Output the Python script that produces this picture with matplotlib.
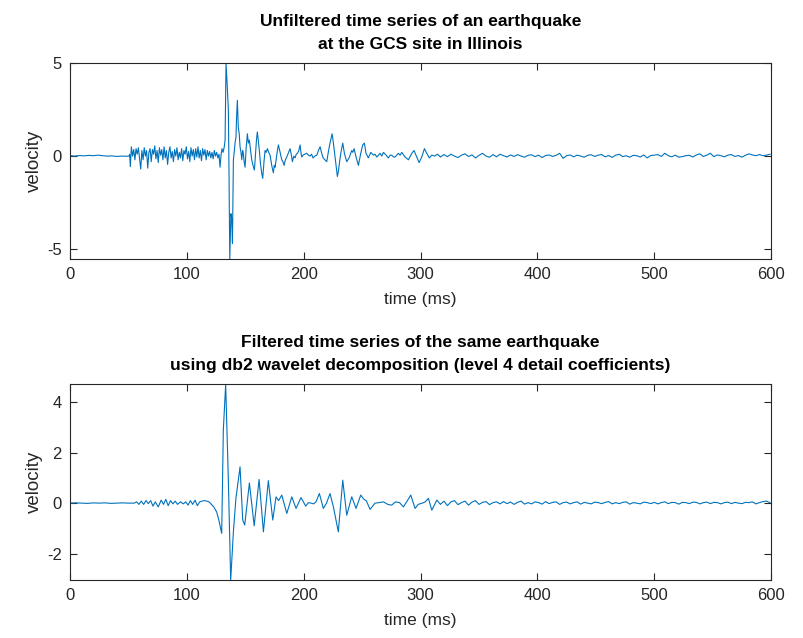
import numpy as np
import matplotlib
matplotlib.use("Agg")
import matplotlib.pyplot as plt

plt.rcParams['font.family'] = ['Liberation Sans', 'DejaVu Sans']
plt.rcParams['axes.unicode_minus'] = False

LINE_COLOR = '#0072BD'

# ---------------- Unfiltered series (top) ----------------
raw_t = [0, 4, 8, 12, 16, 20, 24, 28, 32, 36, 40, 44, 48, 50.5,
         51, 51.6, 52.5, 53.5, 54.5, 55.5, 56.5, 57.5, 58.5, 59.5, 60.5, 61.5, 62.5, 63.5, 64.5,
         65.5, 66.5, 67.5, 68.5, 69.5, 70.5, 71.5, 72.5, 73.5, 74.5, 75.5, 76.5, 77.5, 78.5, 79.5,
         80.5, 81.5, 82.5, 83.5, 84.5, 85.5, 86.5, 87.5, 88.5, 89.5, 90.5, 91.5, 92.5, 93.5, 94.5,
         95.5, 96.5, 97.5, 98.5, 99.5, 100.5, 101.5, 102.5, 103.5, 104.5, 105.5, 106.5, 107.5, 108.5,
         109.5, 110.5, 111.5, 112.5, 113.5, 114.5, 115.5, 116.5, 117.5, 118.5, 119.5, 120.5, 121.5,
         122.5, 123.5, 124.5, 125.5, 126.5, 127.5, 128.4, 129.3, 130.1, 131, 132, 132.7, 133.5,
         134.6, 135.5, 136.1, 136.7, 137.2, 137.7, 138.4, 139.0, 139.8, 140.5, 141.2, 142, 142.6,
         143.2, 144, 144.8, 145.5, 146.3, 147, 147.7, 148.3, 149, 149.8, 150.8, 151.8, 152.6, 153.5,
         154.5, 155.5, 156.6, 157.8, 158.8, 159.6, 160.3, 161.2, 162, 163, 164, 164.9, 166, 166.9,
         167.8, 168.9, 170, 171.2, 172.6, 174, 174.8, 175.5, 177, 178.3, 179.8, 181.2, 182.2, 183.2,
         184.3, 185.5, 187, 188.3, 189.3, 190.3, 191.5, 192.6, 193.6, 194.6, 195.8, 196.9, 197.6,
         198.3, 199.4, 200.8, 202.6, 204, 205.4, 206.7, 208, 209.5, 211.2, 212.6, 214, 215.4, 216.6,
         218.2, 219.7, 221, 222.5, 224.3, 225.4, 226.8, 227.8, 228.8, 229.7, 230.5, 231.7, 233.4,
         234.8, 236.8, 238.8, 240, 241.1, 242, 243.1, 244.8, 246.8, 248.8, 250.5, 251.9, 253.3,
         255.3, 257.4, 259.6, 261, 262.5, 264, 265.3, 266.8, 268.2, 270.5, 272.4, 274, 275.3, 276.8,
         278.2, 281, 282.5, 283.9, 286.7, 289.6, 292.5, 294.4, 296.7, 298.7, 301, 303.3, 305.3,
         307.5, 309.6, 312, 314.5]
raw_v = [0.02, 0.0, 0.03, 0.01, 0.04, 0.02, 0.05, 0.02, 0.0, 0.01, -0.02, 0.0, -0.01, 0.0,
         0.1, -0.57, 0.5, 0.0, 0.35, -0.2, 0.4, 0.1, 0.45, -0.1, -0.7, 0.3, -0.2, 0.45, 0.0,
         0.3, -0.65, 0.2, 0.4, -0.3, 0.35, 0.1, 0.55, -0.15, 0.3, -0.35, 0.45, 0.05, 0.35, -0.2,
         0.5, -0.1, 0.3, -0.45, 0.2, 0.5, -0.1, 0.25, -0.3, 0.35, 0.0, 0.45, -0.2, 0.2, -0.1,
         0.4, -0.25, 0.3, 0.1, 0.5, -0.15, 0.25, -0.3, 0.45, 0.0, 0.35, -0.2, 0.4, -0.05,
         0.5, -0.1, 0.3, -0.25, 0.4, 0.05, 0.35, -0.2, 0.3, 0.0, 0.25, -0.1, 0.2,
         -0.15, 0.3, 0.0, 0.2, -0.1, 0.1, -0.6, 0.1, 0.4, 0.2, 0.5, 0.86, 5.0,
         3.7, 2.5, -1.1, -5.54, -4.35, -3.1, -3.4, -4.7, -0.2, 0.2, 0.7, 1.0, 2.2,
         3.0, 1.56, 1.2, 0.5, 0.2, -0.2, 0.3, 0.16, -0.3, -0.6, 0.5, 1.2, 0.7, 0.86,
         0.3, -0.2, -0.5, -0.75, 0.2, 0.9, 1.3, 0.8, 0.3, -0.4, -0.9, -1.2, -0.3, 0.3,
         0.2, 0.4, 0.2, 0.05, -0.5, -0.9, -0.5, -0.6, 0.1, 0.6, 0.2, -0.2, -0.3, -0.5,
         -0.2, -0.05, 0.2, 0.4, 0.1, -0.3, 0.0, -0.1, 0.1, 0.15, 0.3, 0.6, 0.2,
         -0.05, 0.05, 0.1, 0.15, 0.05, 0.0, 0.1, -0.1, 0.0, 0.05, 0.3, 0.5, 0.15, -0.1,
         -0.2, -0.3, 0.2, 0.7, 1.2, 0.7, -0.05, -0.6, -1.1, -0.8, -0.4, 0.15, 0.7,
         0.15, -0.3, -0.1, 0.1, 0.3, 0.2, 0.4, -0.05, -0.5, 0.15, 0.6, 0.7, 0.15,
         -0.1, 0.2, 0.05, 0.1, -0.05, 0.05, 0.15, 0.0, 0.2, 0.05, -0.1, 0.05, 0.05, -0.05,
         -0.05, 0.15, 0.05, 0.2, -0.05, -0.2, 0.15, 0.3, -0.05, -0.35, -0.05, 0.4, 0.15,
         -0.1, 0.05, 0.0, 0.1]
# quiet tail of the unfiltered record, sampled every 3 ms from 317 ms
raw_tail_start = 317
raw_tail_step = 3
raw_tail_v = [-0.05, 0.08, -0.03, 0.1, 0.0, -0.08, 0.05, 0.12, -0.02, 0.06,
              -0.1, 0.04, 0.15, 0.0, -0.06, 0.08, -0.04, 0.1, 0.02, -0.05,
              0.06, -0.02, 0.08, 0.0, -0.06, 0.04, 0.07, -0.03, 0.05, -0.08,
              0.03, 0.06, -0.02, 0.04, 0.15, -0.12, 0.02, 0.06, -0.04, 0.05,
              0.0, -0.06, 0.04, 0.07, -0.02, 0.05, 0.08, -0.04, 0.03, -0.07,
              0.05, 0.1, -0.03, 0.02, -0.06, 0.04, 0.02, -0.05, 0.06, -0.1,
              0.03, 0.05, 0.08, -0.02, 0.15, 0.02, -0.04, 0.05, -0.06, -0.03,
              0.02, 0.04, -0.05, 0.06, 0.12, -0.02, 0.05, 0.15, -0.03, 0.06,
              0.02, -0.04, 0.05, 0.08, -0.02, 0.03, -0.06, 0.04, 0.12, 0.06,
              0.02, 0.08, 0.02, 0.05, 0.1]

# ---------------- Filtered series (bottom) ----------------
flt_t = [0, 5, 10, 15, 20, 25, 30, 35, 40, 45, 50, 55,
         57, 59, 61, 63, 65, 67, 69, 71, 73, 75.5, 78, 80, 82, 84, 86, 88, 90, 92, 94.5, 97, 99,
         101, 103, 105, 107, 109, 111, 113, 115, 117, 119, 121, 123, 125.5, 127.5, 129.8, 131.2,
         133.2, 135.5, 137.5, 139.8, 142, 145.5, 147.8, 149.5, 153.5, 157.6, 161.8, 165.5, 169.7,
         173.5, 176.3, 178.5, 181.2, 185.5, 189.8, 193.4, 197.7, 201.7, 204, 206.3, 208.5, 210.5,
         213.4, 216.8, 219.5, 222.5, 225.4, 229.6, 233.4, 236.8, 241.1, 244.8, 248.8, 251.5, 253.5,
         256.8, 261, 264.5, 268.2, 272, 275.3, 278.5, 282, 285.3, 289, 291.6, 295.3, 298, 301.5,
         304, 306.7, 309.6, 313.9]
flt_v = [0.0, 0.01, 0.0, -0.01, 0.01, 0.0, 0.01, -0.01, 0.0, 0.01, 0.0, 0.0,
         0.05, -0.05, 0.08, -0.05, 0.1, -0.02, 0.1, -0.12, 0.05, -0.15, 0.12, -0.05, 0.15, -0.1,
         0.1, -0.03, 0.08, -0.05, 0.05, -0.03, 0.05,
         -0.08, 0.1, -0.05, 0.12, -0.1, 0.05, 0.08, 0.1, 0.08, 0.05, -0.05, -0.15, -0.35, -0.7,
         -1.2, 2.9,
         4.72, 0.9, -3.05, -1.14, 0.2, 1.44, -0.67, -0.87, 0.8, -0.9, 0.94, -1.14, 0.89,
         -0.67, 0.25, 0.1, 0.32, -0.41, 0.25, -0.21, 0.22, -0.12, 0.02, 0.0, -0.03, 0.05,
         0.38, -0.21, 0.0, 0.38, -0.15, -1.14, 0.91, -0.48, 0.25, -0.21, 0.32, 0.15, 0.1,
         -0.25, 0.0, 0.02, 0.05, -0.05, -0.08, 0.05, 0.02, -0.15, 0.12, 0.32, -0.21, -0.05,
         0.0, 0.05, 0.19, -0.28, 0.12]
# quiet tail of the filtered record, sampled every 3 ms from 317 ms
flt_tail_start = 317
flt_tail_step = 3
flt_tail_v = [-0.05, 0.08, -0.1, 0.05, 0.1, -0.06, 0.02, 0.08, -0.08, 0.04,
              0.1, -0.05, 0.03, 0.06, -0.06, 0.02, 0.05, -0.03, 0.06, -0.02,
              0.04, -0.05, 0.03, 0.08, -0.04, 0.02, -0.03, 0.05, 0.02, -0.04,
              0.06, -0.02, 0.03, 0.05, -0.05, 0.02, 0.04, -0.03, 0.02, 0.05,
              -0.04, 0.03, 0.0, -0.03, 0.04, 0.02, -0.02, 0.03, 0.06, -0.03,
              0.02, -0.02, 0.03, 0.05, -0.04, 0.02, 0.0, -0.03, 0.04, 0.02,
              -0.02, 0.03, -0.03, 0.02, 0.05, -0.02, 0.03, 0.02, -0.04, 0.03,
              0.02, -0.02, 0.04, 0.03, -0.03, 0.02, 0.04, -0.02, 0.03, 0.02,
              -0.03, 0.02, 0.04, -0.02, 0.03, 0.0, -0.02, 0.03, 0.02, 0.05,
              -0.03, 0.02, 0.06, 0.08, 0.02]

xticks = [0, 100, 200, 300, 400, 500, 600]
yticks_top = [-5, 0, 5]
yticks_bottom = [-2, 0, 2, 4]

title_top = "Unfiltered time series of an earthquake\nat the GCS site in Illinois"
title_bottom = ("Filtered time series of the same earthquake\n"
                "using db2 wavelet decomposition (level 4 detail coefficients)")


def series(t, v, tail_start, tail_step, tail_v):
    tt = np.concatenate([np.asarray(t, float),
                         tail_start + tail_step * np.arange(len(tail_v))])
    vv = np.concatenate([np.asarray(v, float), np.asarray(tail_v, float)])
    return tt, vv


fig = plt.figure(figsize=(8.04, 6.38), dpi=100)
ax1 = fig.add_axes([0.0871, 0.594, 0.872, 0.307])
ax2 = fig.add_axes([0.0871, 0.0909, 0.872, 0.307])

t1, v1 = series(raw_t, raw_v, raw_tail_start, raw_tail_step, raw_tail_v)
t2, v2 = series(flt_t, flt_v, flt_tail_start, flt_tail_step, flt_tail_v)

for ax, t, v, yt, ylim, title in [
        (ax1, t1, v1, yticks_top, (-5.54, 5.0), title_top),
        (ax2, t2, v2, yticks_bottom, (-3.05, 4.72), title_bottom)]:
    ax.plot(t, v, color=LINE_COLOR, lw=0.8)
    ax.set_xlim(0, 600)
    ax.set_ylim(*ylim)
    ax.set_xticks(xticks)
    ax.set_yticks(yt)
    ax.tick_params(direction='in', length=5, width=0.8, top=True, right=True,
                   labelsize=12, colors='#262626', labelcolor='#262626', pad=6)
    for s in ax.spines.values():
        s.set_color('#262626')
        s.set_linewidth(0.8)
    ax.set_xlabel('time (ms)', fontsize=12.5, color='#262626', labelpad=7)
    ax.set_ylabel('velocity', fontsize=13.5, color='#262626', labelpad=3)
    ax.set_title(title, fontsize=12.5, fontweight='bold', color='black',
                 linespacing=1.65, pad=10)

fig.savefig('out.png', dpi=100)
